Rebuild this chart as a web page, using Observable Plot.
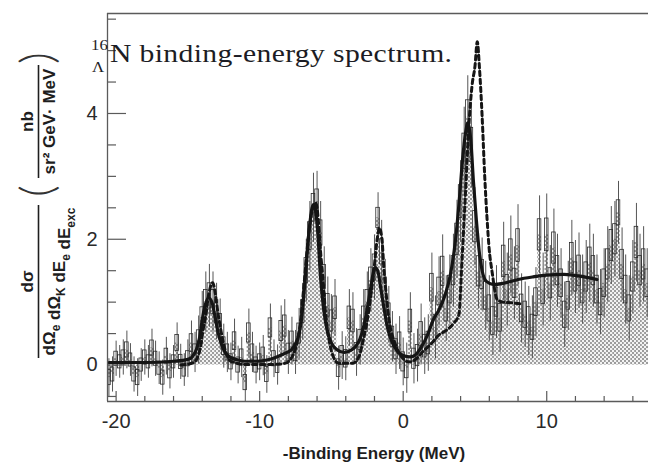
<!DOCTYPE html>
<html>
<head>
<meta charset="utf-8">
<script src="https://cdn.jsdelivr.net/npm/d3@7"></script>
<script src="https://cdn.jsdelivr.net/npm/@observablehq/plot@0.6"></script>
<style>
  html, body { margin: 0; padding: 0; background: #fff; }
  #chart { width: 648px; height: 462px; overflow: hidden; }
</style>
</head>
<body>
<div id="chart"></div>
<script>
// ---------- data ----------
const binStart = -20.625;   // left edge of first bin (MeV)
const binWidth = 0.25;      // MeV
// histogram contents (nb / sr^2 GeV MeV), one per bin
const counts = [
  -0.20, -0.15, 0.10, 0.05, 0.12, 0.24, 0.08, -0.15, -0.20, 0.00,
  0.12, 0.05, 0.27, 0.10, -0.05, -0.20, 0.14, -0.10, 0.05, 0.35,
  0.05, -0.08, 0.10, 0.35, 0.20, 0.40, 0.75, 1.00, 1.10, 1.00,
  0.85, 0.65, 0.30, 0.20, 0.05, 0.38, 0.00, 0.12, -0.28, 0.51,
  0.20, 0.00, 0.05, 0.15, -0.15, 0.59, 0.10, 0.00, 0.54, 0.62,
  0.20, 0.38, 0.20, 0.50, 0.85, 1.50, 2.05, 2.50, 2.60, 2.10,
  1.40, 0.95, 0.70, 0.91, -0.05, 0.15, 0.10, 0.75, 0.70, 0.20,
  0.40, 0.75, 1.00, 1.35, 1.55, 2.34, 1.80, 1.20, 0.80, 0.45,
  0.25, 0.35, 0.05, -0.05, 0.70, 0.10, 0.15, 0.49, 0.30, 0.35,
  1.23, 0.60, 1.17, 1.49, 0.90, 1.20, 1.50, 2.00, 2.60, 3.40,
  3.95, 3.50, 2.20, 1.49, 1.44, 1.10, 0.90, 0.70, 1.00, 0.75,
  1.65, 1.20, 1.75, 1.30, 1.90, 0.90, 0.80, 0.70, 0.60, 1.00,
  2.07, 1.20, 2.07, 1.30, 1.86, 1.50, 1.30, 0.80, 1.10, 1.70,
  1.40, 1.50, 1.20, 1.40, 1.62, 1.50, 1.20, 1.00, 1.30, 1.60,
  1.90, 2.00, 2.42, 1.60, 1.20, 0.90, 1.40, 1.95, 1.50, 1.60,
  1.30
];
// statistical error of each bin
const errors = [
  0.30, 0.28, 0.28, 0.26, 0.28, 0.30, 0.26, 0.28, 0.30, 0.26,
  0.28, 0.26, 0.30, 0.28, 0.26, 0.28, 0.30, 0.28, 0.26, 0.32,
  0.28, 0.26, 0.30, 0.35, 0.32, 0.38, 0.42, 0.48, 0.50, 0.48,
  0.45, 0.40, 0.35, 0.32, 0.30, 0.35, 0.30, 0.32, 0.30, 0.38,
  0.32, 0.30, 0.30, 0.32, 0.30, 0.38, 0.30, 0.32, 0.40, 0.42,
  0.35, 0.38, 0.35, 0.40, 0.45, 0.50, 0.55, 0.55, 0.48, 0.50,
  0.48, 0.45, 0.42, 0.45, 0.35, 0.38, 0.35, 0.45, 0.45, 0.38,
  0.40, 0.45, 0.48, 0.50, 0.52, 0.40, 0.50, 0.48, 0.45, 0.40,
  0.40, 0.42, 0.38, 0.40, 0.45, 0.40, 0.42, 0.48, 0.45, 0.45,
  0.55, 0.50, 0.55, 0.58, 0.52, 0.55, 0.58, 0.62, 0.65, 0.70,
  0.65, 0.68, 0.62, 0.60, 0.58, 0.55, 0.52, 0.55, 0.58, 0.55,
  0.62, 0.58, 0.62, 0.58, 0.65, 0.55, 0.52, 0.55, 0.50, 0.55,
  0.62, 0.58, 0.65, 0.60, 0.62, 0.58, 0.55, 0.52, 0.55, 0.60,
  0.58, 0.60, 0.55, 0.58, 0.62, 0.58, 0.55, 0.52, 0.55, 0.60,
  0.62, 0.60, 0.50, 0.58, 0.55, 0.52, 0.58, 0.62, 0.58, 0.60,
  0.55
];
// solid fit curve
const fitX = [-20.5, -18, -16, -15, -14.7, -14.4, -14.2, -14.0, -13.8, -13.55, -13.3, -13.1, -12.9, -12.7, -12.4, -12.1, -11.5, -11, -10.3, -9.5, -8.9, -8.3, -7.8, -7.5, -7.27, -7.05, -6.8, -6.55, -6.35, -6.23, -6.1, -5.95, -5.76, -5.55, -5.3, -5.0, -4.6, -4.1, -3.6, -3.3, -3.0, -2.75, -2.5, -2.25, -2.05, -1.93, -1.75, -1.55, -1.35, -1.1, -0.8, -0.5, 0.0, 0.5, 0.9, 1.3, 1.7, 2.1, 2.5, 2.9, 3.3, 3.6, 3.9, 4.15, 4.35, 4.5, 4.7, 4.9, 5.1, 5.3, 5.5, 5.8, 6.3, 7.0, 8.0, 9.0, 10.0, 11.2, 12.4, 13.5];
const fitY = [0.04, 0.04, 0.06, 0.09, 0.13, 0.25, 0.42, 0.72, 0.95, 1.07, 0.98, 0.76, 0.52, 0.36, 0.20, 0.13, 0.08, 0.06, 0.06, 0.08, 0.12, 0.18, 0.24, 0.34, 0.48, 0.80, 1.45, 2.15, 2.50, 2.55, 2.45, 2.10, 1.40, 0.90, 0.55, 0.35, 0.24, 0.20, 0.24, 0.30, 0.42, 0.62, 0.90, 1.25, 1.50, 1.55, 1.48, 1.20, 0.92, 0.60, 0.38, 0.25, 0.15, 0.13, 0.17, 0.30, 0.48, 0.72, 0.88, 1.10, 1.45, 1.90, 2.60, 3.30, 3.70, 3.85, 3.60, 2.90, 2.30, 1.80, 1.50, 1.33, 1.28, 1.30, 1.36, 1.40, 1.43, 1.44, 1.41, 1.36];
// dashed curve
const dashX = [-15.5, -14.6, -14.13, -13.95, -13.78, -13.55, -13.27, -13.1, -12.96, -12.73, -12.38, -12.0, -11, -9, -8.2, -7.7, -7.4, -7.15, -6.9, -6.6, -6.35, -6.11, -5.95, -5.85, -5.72, -5.6, -5.5, -5.4, -5.2, -4.9, -4.5, -3.5, -3.05, -2.85, -2.4, -2.05, -1.8, -1.65, -1.45, -1.35, -1.18, -1.0, -0.55, -0.07, 0.4, 0.8, 1.4, 2.0, 2.5, 3.0, 3.5, 3.88, 4.1, 4.34, 4.57, 4.8, 5.0, 5.16, 5.32, 5.5, 5.68, 5.85, 5.97, 6.2, 6.55, 7.0, 7.5, 8.3];
const dashY = [0.00, 0.04, 0.27, 0.55, 0.75, 1.12, 1.31, 1.15, 0.91, 0.59, 0.22, 0.06, 0.01, 0.01, 0.03, 0.15, 0.35, 0.70, 1.30, 2.05, 2.45, 2.58, 2.40, 2.10, 1.70, 1.40, 1.10, 0.80, 0.45, 0.15, 0.03, 0.03, 0.15, 0.33, 0.86, 1.49, 2.02, 2.18, 1.92, 1.55, 1.12, 0.75, 0.33, 0.12, 0.05, 0.08, 0.22, 0.35, 0.48, 0.55, 0.66, 0.80, 1.68, 2.74, 3.79, 4.45, 4.75, 5.14, 4.70, 3.95, 3.00, 2.30, 1.90, 1.47, 1.04, 1.00, 0.99, 0.97];
// axes
const xDomain = [-20.6, 17.09];
const yDomain = [-0.58, 5.59];
const xLabelTicks = [-20, -10, 0, 10];
const xMinorTicks = [-18, -16, -14, -12, -8, -6, -4, -2, 2, 4, 6, 8, 12, 14, 16];
const yLabelTicks = [0, 2, 4];
const yMinorTicks = [-0.5, 0.5, 1, 1.5, 2.5, 3, 3.5, 4.5, 5, 5.5];
const xTitle = "-Binding Energy (MeV)";
const titleMain = "N binding-energy spectrum.";

// ---------- build ----------
const bins = counts.map((v, i) => ({
  x0: binStart + i * binWidth,
  x1: binStart + (i + 1) * binWidth,
  v, e: errors[i]
}));
const fit = fitX.map((x, i) => ({x, y: fitY[i]}));
const dash = dashX.map((x, i) => ({x, y: dashY[i]}));

const W = 648, H = 462, mL = 107, mR = 0, mT = 13, mB = 61;
const innerH = H - mT - mB, innerW = W - mL - mR;
const axisColor = "#5a5a5a";

const chart = Plot.plot({
  width: W, height: H,
  marginLeft: mL, marginRight: mR, marginTop: mT, marginBottom: mB,
  style: {background: "#fff", fontFamily: "'Liberation Sans', Arial, sans-serif", fontSize: "20px", color: "#2a2a2a"},
  x: {domain: xDomain, ticks: xLabelTicks, tickSize: 0, tickPadding: 12, tickFormat: d => String(d), label: null},
  y: {domain: yDomain, ticks: yLabelTicks, tickSize: 0, tickPadding: 10, tickFormat: d => String(d), label: null},
  marks: [
    Plot.rect(bins, {x1: "x0", x2: "x1", y1: 0, y2: "v", fill: "url(#chk)", clip: true}),
    Plot.ruleX(bins, {x: d => (d.x0 + d.x1) / 2, y1: d => d.v - d.e, y2: d => d.v + d.e, stroke: "#555", strokeWidth: 1, clip: true}),
    Plot.rect(bins, {x1: "x0", x2: "x1", y1: d => d.v - 0.4 * d.e, y2: d => d.v + 0.4 * d.e, fill: "none", stroke: "#2a2a2a", strokeWidth: 0.8, clip: true}),
    Plot.line(fit, {x: "x", y: "y", curve: "monotone-x", stroke: "#151515", strokeWidth: 3.2}),
    Plot.line(dash, {x: "x", y: "y", curve: "monotone-x", stroke: "#151515", strokeWidth: 3, strokeDasharray: "4.5,3.5"}),
    // frame: left, top, bottom
    Plot.ruleX([xDomain[0]], {stroke: axisColor, strokeWidth: 1.3}),
    Plot.ruleY([yDomain[1]], {stroke: axisColor, strokeWidth: 1.3}),
    Plot.ruleY([yDomain[0]], {stroke: axisColor, strokeWidth: 1.3}),
    // inward ticks
    Plot.tickX(xMinorTicks, {x: d => d, insetTop: innerH - 5, stroke: axisColor, strokeWidth: 1.2}),
    Plot.tickX(xLabelTicks, {x: d => d, insetTop: innerH - 10, stroke: axisColor, strokeWidth: 1.2}),
    Plot.tickY(yMinorTicks, {y: d => d, insetRight: innerW - 9, stroke: axisColor, strokeWidth: 1.2}),
    Plot.tickY(yLabelTicks, {y: d => d, insetRight: innerW - 19, stroke: axisColor, strokeWidth: 1.2})
  ]
});

const svg = d3.select(chart.tagName.toLowerCase() === "svg" ? chart : chart.querySelector("svg"));
// checkered fill pattern
const defs = svg.insert("defs", ":first-child");
const pat = defs.append("pattern").attr("id", "chk").attr("patternUnits", "userSpaceOnUse")
  .attr("width", 4).attr("height", 4);
pat.append("rect").attr("width", 4).attr("height", 4).attr("fill", "#f2f2f2");
pat.append("rect").attr("width", 2).attr("height", 2).attr("fill", "#9c9c9c");
pat.append("rect").attr("x", 2).attr("y", 2).attr("width", 2).attr("height", 2).attr("fill", "#9c9c9c");

// x-axis title
svg.append("text").attr("x", 374).attr("y", 459)
  .attr("text-anchor", "middle").attr("font-weight", "bold").attr("font-size", 17)
  .attr("fill", "#1e1e1e").text(xTitle);

// chart title (serif, with pre-scripts 16 and Λ), slightly wide like the original
const serif = "'Liberation Serif', 'Times New Roman', serif";
const tg = svg.append("g").attr("font-family", serif).attr("fill", "#1c1c24")
  .attr("text-anchor", "start").attr("font-weight", "normal");
tg.append("text").attr("transform", "translate(91,50) scale(1.12,1)").attr("font-size", 15).text("16");
tg.append("text").attr("transform", "translate(92,72) scale(1.12,1)").attr("font-size", 15).text("Λ");
tg.append("text").attr("transform", "translate(110,62) scale(1.14,1)").attr("font-size", 26)
  .attr("textLength", 300).attr("lengthAdjust", "spacing").text(titleMain);

// rotated y-axis label
const g = svg.append("g").attr("transform", "rotate(-90)")
  .attr("font-weight", "bold").attr("font-size", 17).attr("fill", "#1e1e1e");
// first fraction: dσ / dΩe dΩK dEe dEexc
g.append("text").attr("x", -281.5).attr("y", 33).attr("text-anchor", "middle").text("dσ");
g.append("line").attr("x1", -358).attr("x2", -205).attr("y1", 38.5).attr("y2", 38.5)
  .attr("stroke", "#1e1e1e").attr("stroke-width", 1.6);
const den = g.append("text").attr("x", -281.5).attr("y", 55).attr("text-anchor", "middle");
const parts = [["dΩ", "e"], [" dΩ", "K"], [" dE", "e"], [" dE", "exc"]];
for (const [main, sub] of parts) {
  den.append("tspan").text(main);
  den.append("tspan").attr("dy", 5).attr("font-size", 12).text(sub);
  den.append("tspan").attr("dy", -5).text("");
}
// parentheses (thin)
const pg = g.append("g").attr("font-family", "Lato, 'Liberation Sans', sans-serif")
  .attr("font-weight", 300).attr("font-size", 46).attr("text-anchor", "middle").attr("fill", "#333");
pg.append("text").attr("x", -191).attr("y", 53).text("(");
pg.append("text").attr("x", -58).attr("y", 53).text(")");
// second fraction: nb / sr² GeV· MeV
g.append("text").attr("x", -121.5).attr("y", 33).attr("text-anchor", "middle").text("nb");
g.append("line").attr("x1", -178).attr("x2", -65).attr("y1", 38.5).attr("y2", 38.5)
  .attr("stroke", "#1e1e1e").attr("stroke-width", 1.6);
g.append("text").attr("x", -121.5).attr("y", 55).attr("text-anchor", "middle").text("sr² GeV· MeV");

document.getElementById("chart").appendChild(chart);
</script>
</body>
</html>
